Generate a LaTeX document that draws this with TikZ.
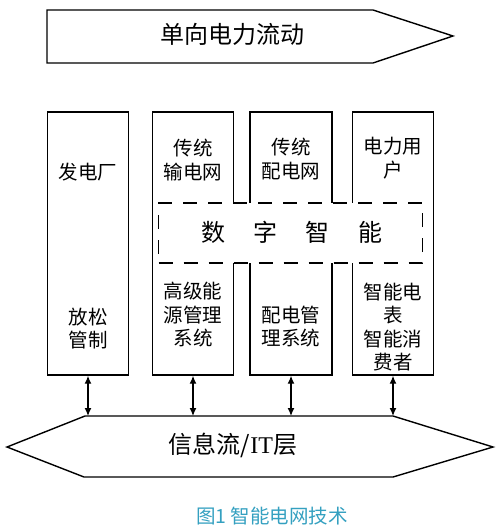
\documentclass[tikz,border=0pt]{standalone}
\usepackage{fontspec}
\setmainfont{Liberation Serif}
\newfontfamily\cjk{Noto Sans CJK SC}
\usetikzlibrary{arrows.meta}
\definecolor{captionblue}{RGB}{52,160,192}
\tikzset{
  frame/.style={draw=black, line width=1.4pt},
  colbox/.style={draw=black, line width=1.4pt, fill=white, minimum height=263pt, inner sep=0pt},
  boxtext/.style={font=\cjk\fontsize{19.5}{23.5}\selectfont, align=center, inner sep=0pt},
  bigtext/.style={font=\cjk\fontsize{24}{28}\selectfont, inner sep=0pt},
  dashbox/.style={draw=black, line width=1.4pt, fill=white, dash pattern=on 14pt off 11pt},
  link/.style={line width=1.3pt, {Latex[length=8pt,width=7pt]}-{Latex[length=8pt,width=7pt]}},
}
\begin{document}
\begin{tikzpicture}[x=1pt,y=-1pt]
\useasboundingbox (0,0) rectangle (500,532);
% top arrow
\draw[frame, fill=white] (47,10) -- (373,10) -- (453,36) -- (373,63) -- (47,63) -- cycle;
\node[bigtext] (flow) at (232,34) {单向电力流动};
% column boxes
\node[colbox, minimum width=81pt] (b1) at (88,243.5) {};
\node[colbox, minimum width=81pt] (b2) at (193,243.5) {};
\node[colbox, minimum width=82pt] (b3) at (291,243.5) {};
\node[colbox, minimum width=81pt] (b4) at (393,243.5) {};
% dashed digital box
\node[dashbox, minimum width=264pt, minimum height=60pt] (dig) at (290.5,233) {};
\node[bigtext] (d1) at (213,232) {数};
\node[bigtext] (d2) at (265,232) {字};
\node[bigtext] (d3) at (317,232) {智};
\node[bigtext] (d4) at (370,232) {能};
% box texts
\node[boxtext] (t1a) at (88,172) {发电厂};
\node[boxtext] (t1b) at (88,328.5) {放松\\管制};
\node[boxtext] (t2a) at (193,160) {传统\\输电网};
\node[boxtext] (t2b) at (193,315) {高级能\\源管理\\系统};
\node[boxtext] (t3a) at (291,159) {传统\\配电网};
\node[boxtext] (t3b) at (291,326.5) {配电管\\理系统};
\node[boxtext] (t4a) at (393,158) {电力用\\户};
\node[boxtext] (t4b) at (393,327) {智能电\\表\\智能消\\费者};
% bottom hexagon
\draw[frame, fill=white] (7,447) -- (85,416) -- (393,416) -- (493,447) -- (393,477) -- (84,477) -- cycle;
\coordinate (it) at (250,416);
\node[bigtext] (itl) at (233,445) {信息流/{\rmfamily IT}层};
% links
\foreach \b in {b1,b2,b3,b4}{
  \draw[link] (\b.south) -- (\b.south |- it);
}
% caption
\node[font=\cjk\fontsize{19.5}{21}\selectfont, text=captionblue, inner sep=0pt] (cap) at (272,516.5) {图1 智能电网技术};
\end{tikzpicture}
\end{document}
